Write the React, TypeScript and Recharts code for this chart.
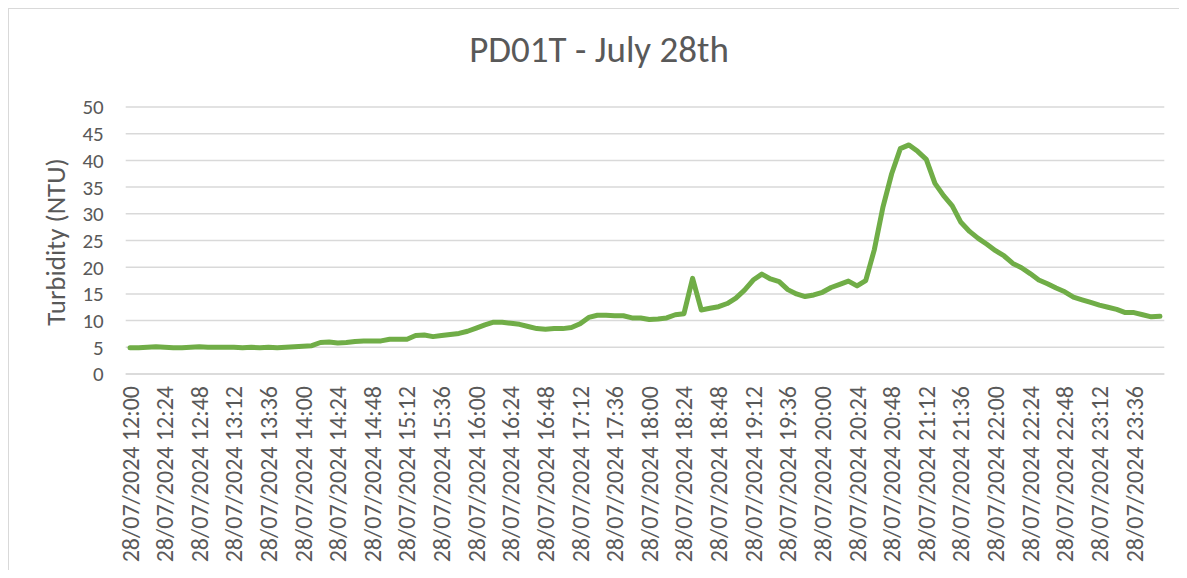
import { LineChart, Line, XAxis, YAxis, CartesianGrid } from "recharts";

const DATE = "28/07/2024";

// one reading every 6 minutes
const times = [
  "12:00", "12:06", "12:12", "12:18", "12:24", "12:30", "12:36", "12:42", "12:48", "12:54",
  "13:00", "13:06", "13:12", "13:18", "13:24", "13:30", "13:36", "13:42", "13:48", "13:54",
  "14:00", "14:06", "14:12", "14:18", "14:24", "14:30", "14:36", "14:42", "14:48", "14:54",
  "15:00", "15:06", "15:12", "15:18", "15:24", "15:30", "15:36", "15:42", "15:48", "15:54",
  "16:00", "16:06", "16:12", "16:18", "16:24", "16:30", "16:36", "16:42", "16:48", "16:54",
  "17:00", "17:06", "17:12", "17:18", "17:24", "17:30", "17:36", "17:42", "17:48", "17:54",
  "18:00", "18:06", "18:12", "18:18", "18:24", "18:30", "18:36", "18:42", "18:48", "18:54",
  "19:00", "19:06", "19:12", "19:18", "19:24", "19:30", "19:36", "19:42", "19:48", "19:54",
  "20:00", "20:06", "20:12", "20:18", "20:24", "20:30", "20:36", "20:42", "20:48", "20:54",
  "21:00", "21:06", "21:12", "21:18", "21:24", "21:30", "21:36", "21:42", "21:48", "21:54",
  "22:00", "22:06", "22:12", "22:18", "22:24", "22:30", "22:36", "22:42", "22:48", "22:54",
  "23:00", "23:06", "23:12", "23:18", "23:24", "23:30", "23:36", "23:42", "23:48", "23:54",
];

const turbidity = [
  4.9, 4.9, 5.0, 5.1, 5.0, 4.9, 4.9, 5.0, 5.1, 5.0,
  5.0, 5.0, 5.0, 4.9, 5.0, 4.9, 5.0, 4.9, 5.0, 5.1,
  5.2, 5.3, 5.9, 6.0, 5.8, 5.9, 6.1, 6.2, 6.2, 6.2,
  6.5, 6.5, 6.5, 7.2, 7.3, 7.0, 7.2, 7.4, 7.6, 8.0,
  8.6, 9.2, 9.7, 9.7, 9.5, 9.3, 8.9, 8.5, 8.4, 8.5,
  8.5, 8.7, 9.4, 10.6, 11.0, 11.0, 10.9, 10.9, 10.5, 10.5,
  10.2, 10.3, 10.5, 11.1, 11.3, 17.9, 12.0, 12.3, 12.6, 13.2,
  14.2, 15.7, 17.6, 18.7, 17.8, 17.3, 15.8, 15.0, 14.5, 14.8,
  15.3, 16.2, 16.8, 17.4, 16.5, 17.5, 23.3, 31.3, 37.5, 42.2,
  42.9, 41.7, 40.2, 35.7, 33.4, 31.5, 28.4, 26.7, 25.4, 24.3,
  23.1, 22.1, 20.7, 19.9, 18.8, 17.6, 16.9, 16.1, 15.4, 14.4,
  13.9, 13.4, 12.9, 12.5, 12.1, 11.5, 11.5, 11.1, 10.7, 10.8,
];

const yTicks = [0, 5, 10, 15, 20, 25, 30, 35, 40, 45, 50];

const data = times.map((t, i) => ({ label: `${DATE} ${t}`, ntu: turbidity[i] }));

const FONT = "Carlito, Calibri, Lato, 'Liberation Sans', sans-serif";
const TEXT = "#595959";
const GRID = "#d9d9d9";

// rotated category label, centred on its tick
function XTick(props: any) {
  const { x, y, payload } = props;
  return (
    <text
      x={x}
      y={y}
      transform={`rotate(-90, ${x}, ${y})`}
      textAnchor="end"
      dominantBaseline="central"
      fill={TEXT}
      fontSize={24}
      fontFamily={FONT}
    >
      {payload.value}
    </text>
  );
}

export default function App() {
  return (
    <div
      style={{
        position: "relative",
        width: 1171,
        height: 562,
        boxSizing: "border-box",
        borderTop: `1px solid ${GRID}`,
        borderLeft: `1px solid ${GRID}`,
        fontFamily: FONT,
      }}
    >
      <div
        style={{
          position: "absolute",
          left: 90,
          top: 22,
          width: 1000,
          textAlign: "center",
          fontSize: 37,
          lineHeight: "37px",
          color: TEXT,
        }}
      >
        PD01T - July 28th
      </div>
      <div
        style={{
          position: "absolute",
          left: -103,
          top: 219,
          width: 300,
          height: 28,
          textAlign: "center",
          fontSize: 27,
          lineHeight: "28px",
          color: TEXT,
          transform: "rotate(-90deg)",
        }}
      >
        Turbidity (NTU)
      </div>
      <div style={{ position: "absolute", left: 0, top: 0 }}>
        <LineChart
          width={1170}
          height={561}
          data={data}
          margin={{ top: 98, right: 14.7, left: 36.7, bottom: 6 }}
        >
          <CartesianGrid vertical={false} stroke={GRID} strokeWidth={1.5} />
          <XAxis
            dataKey="label"
            interval={3}
            height={190}
            padding={{ left: 4.33, right: 4.33 }}
            tickLine={false}
            tickSize={0}
            tickMargin={12}
            axisLine={{ stroke: GRID, strokeWidth: 1.5 }}
            tick={XTick}
          />
          <YAxis
            domain={[0, 50]}
            ticks={yTicks}
            interval={0}
            width={80}
            axisLine={false}
            tickLine={false}
            tickSize={0}
            tickMargin={22}
            tick={{ fill: TEXT, fontSize: 21, fontFamily: FONT }}
          />
          <Line
            type="linear"
            dataKey="ntu"
            stroke="#70ad47"
            strokeWidth={5}
            strokeLinejoin="round"
            strokeLinecap="round"
            dot={false}
            activeDot={false}
            isAnimationActive={false}
          />
        </LineChart>
      </div>
    </div>
  );
}
